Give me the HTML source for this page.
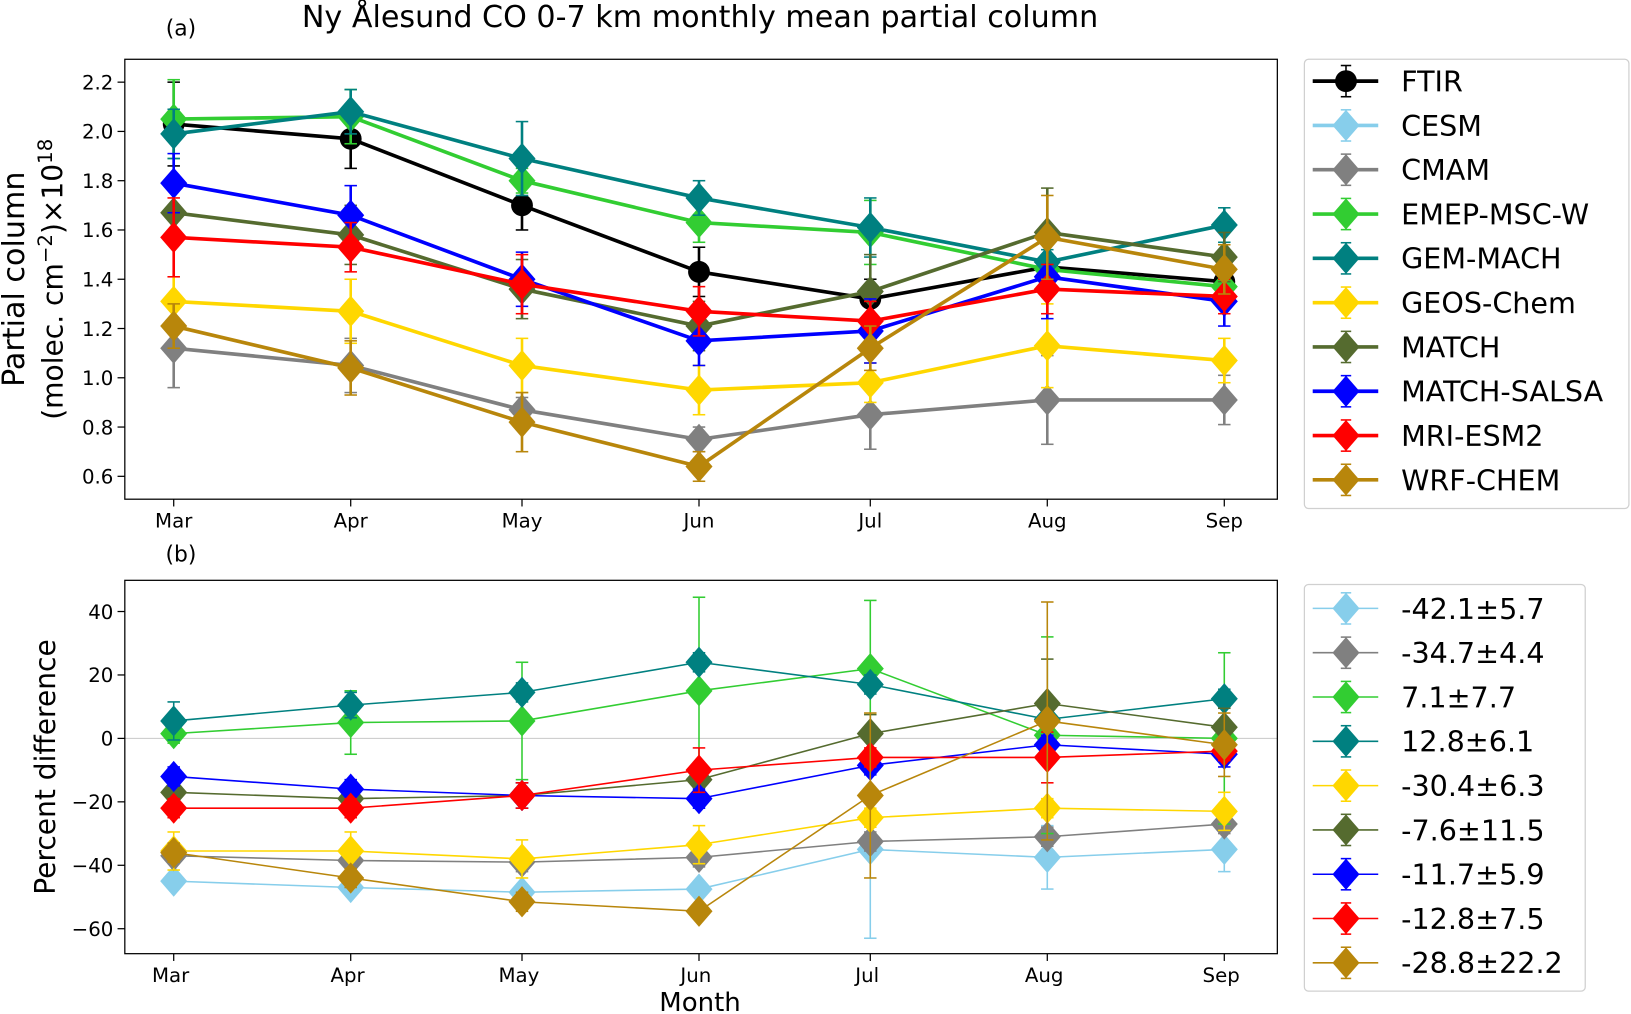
<!DOCTYPE html>
<html><head><meta charset="utf-8"><style>
html,body{margin:0;padding:0;background:#fff;}
svg{display:block;font-family:"DejaVu Sans","Liberation Sans",sans-serif;}
</style></head><body>
<svg id="chart" width="1631" height="1014" viewBox="0 0 1568 975" preserveAspectRatio="none" xmlns="http://www.w3.org/2000/svg">
<rect x="0" y="0" width="1568" height="975" fill="#fff"/>
<text x="673" y="26" font-size="29" text-anchor="middle">Ny Ålesund CO 0-7 km monthly mean partial column</text>
<text x="174" y="34" font-size="21" text-anchor="middle">(a)</text>
<text x="174" y="540" font-size="21" text-anchor="middle">(b)</text>
<g id="top"></g>
<g id="bot"></g>
<g id="leg1"></g>
<g id="leg2"></g>
</svg>
<script>
const months = ["Mar","Apr","May","Jun","Jul","Aug","Sep"];
const monthDays = [74,105,135,166,196,227,258];
const names = ["FTIR","CESM","CMAM","EMEP-MSC-W","GEM-MACH","GEOS-Chem","MATCH","MATCH-SALSA","MRI-ESM2","WRF-CHEM"];
const colors = ["#000000","#87ceeb","#808080","#32cd32","#008080","#ffd700","#556b2f","#0000ff","#ff0000","#b8860b"];
const topTicks = [0.6,0.8,1.0,1.2,1.4,1.6,1.8,2.0,2.2];
const botTicks = [-60,-40,-20,0,20,40];
const biasLabels = ["-42.1±5.7","-34.7±4.4","7.1±7.7","12.8±6.1","-30.4±6.3","-7.6±11.5","-11.7±5.9","-12.8±7.5","-28.8±22.2"];
// top panel values (null = not shown)
const vFTIR = [2.03,1.97,1.70,1.43,1.32,1.45,1.39];
const eFTIR = [0.17,0.12,0.10,0.10,0.08,0.10,0.06];
const vCESM = null;
const vCMAM = [1.12,1.05,0.87,0.75,0.85,0.91,0.91];
const eCMAM = [0.16,0.11,0.05,0.05,0.14,0.18,0.10];
const vEMEP = [2.05,2.06,1.80,1.63,1.59,1.44,1.37];
const eEMEP = [0.16,0.11,0.05,0.08,0.13,0.05,0.05];
const vGEM = [1.99,2.08,1.89,1.73,1.61,1.47,1.62];
const eGEM = [0.10,0.09,0.15,0.07,0.12,0.05,0.07];
const vGEOS = [1.31,1.27,1.05,0.95,0.98,1.13,1.07];
const eGEOS = [0.10,0.13,0.11,0.10,0.08,0.17,0.09];
const vMATCH = [1.67,1.58,1.36,1.21,1.35,1.59,1.49];
const eMATCH = [0.09,0.12,0.12,0.10,0.15,0.18,0.10];
const vSALSA = [1.79,1.66,1.40,1.15,1.19,1.41,1.31];
const eSALSA = [0.12,0.12,0.11,0.10,0.13,0.17,0.10];
const vMRI = [1.57,1.53,1.38,1.27,1.23,1.36,1.33];
const eMRI = [0.16,0.10,0.12,0.10,0.08,0.10,0.07];
const vWRF = [1.21,1.04,0.82,0.64,1.12,1.57,1.44];
const eWRF = [0.09,0.11,0.12,0.06,0.09,0.17,0.10];
// bottom panel percent differences
const pCESM = [-45,-47,-48.5,-47.5,-35,-37.5,-35];
const qCESM = [2,2,2,2,28,10,7];
const pCMAM = [-37,-38.5,-39,-37.5,-32.5,-31,-27];
const qCMAM = [2,2,3,3,3,3,3];
const pEMEP = [1.5,5,5.5,15,22,1,0];
const qEMEP = [3,10,18.5,29.5,21.5,31,27];
const pGEM = [5.5,10.5,14.5,24,17,6,12.5];
const qGEM = [6,4,3,3,3,3,3];
const pGEOS = [-35.5,-35.5,-38,-33.5,-25,-22,-23];
const qGEOS = [6,6,6,6,3,3,6];
const pMATCH = [-17,-19,-18,-13,1.5,11,3.5];
const qMATCH = [3,3,4,4,6,14,6];
const pSALSA = [-12,-16,-18,-19,-8.5,-2,-5];
const qSALSA = [3,3,4,3,3,3,4];
const pMRI = [-22,-22,-18,-10,-6,-6,-4];
const qMRI = [3,3,4,7,3,8,3];
const pWRF = [-36,-44,-51.5,-54.5,-18,5.5,-2];
const qWRF = [3,3,3,2,26,37.5,10];

const topVals = [vFTIR,vCESM,vCMAM,vEMEP,vGEM,vGEOS,vMATCH,vSALSA,vMRI,vWRF];
const topErrs = [eFTIR,null,eCMAM,eEMEP,eGEM,eGEOS,eMATCH,eSALSA,eMRI,eWRF];
const botVals = [pCESM,pCMAM,pEMEP,pGEM,pGEOS,pMATCH,pSALSA,pMRI,pWRF];
const botErrs = [qCESM,qCMAM,qEMEP,qGEM,qGEOS,qMATCH,qSALSA,qMRI,qWRF];

const NS="http://www.w3.org/2000/svg";
function mk(parent,tag,attrs,text){const e=document.createElementNS(NS,tag);for(const k in attrs)e.setAttribute(k,attrs[k]);if(text!==undefined)e.textContent=text;parent.appendChild(e);return e;}
function xs(d){return 167+(d-74)*(1177-167)/(258-74);}
function ysTop(v){return 458-(v-0.6)*(458-79)/1.6;}
function ysBot(v){return 710-v*(710-588)/40;}
function diamond(g,cx,cy,w,h,col){return mk(g,"polygon",{points:`${cx},${cy-h} ${cx+w},${cy} ${cx},${cy+h} ${cx-w},${cy}`,fill:col});}

function axes(g,top,bot,ticks,ys,fmt,ylab,ylab2,xoff){
  mk(g,"rect",{x:120,y:top,width:1108,height:bot-top,fill:"none",stroke:"#000","stroke-width":1.2});
  ticks.forEach(t=>{const y=ys(t);
    const tk=mk(g,"line",{x1:113,x2:120,y1:y,y2:y,stroke:"#000","stroke-width":1.2});
    
    
    const tl=mk(g,"text",{x:109,y:y+7,"font-size":19,"text-anchor":"end"},fmt(t));
    
    
  });
  months.forEach((m,i)=>{const x=xs(monthDays[i]);
    const tk=mk(g,"line",{x1:x,x2:x,y1:bot,y2:bot+7,stroke:"#000","stroke-width":1.2});
    
    
    const tl=mk(g,"text",{x:x+xoff,y:bot+27,"font-size":19,"text-anchor":"middle"},m);
    
    
  });
  const yl=mk(g,"text",{transform:`translate(${ylab2?23:53},${(top+bot)/2}) rotate(-90)`,"font-size":ylab2?29:27,"text-anchor":"middle"},ylab);
  
  
  if(ylab2){const t=mk(g,"text",{transform:`translate(60,${(top+bot)/2}) rotate(-90)`,"font-size":27,"text-anchor":"middle"});
    
    
    t.innerHTML='(molec. cm<tspan font-size="19" dy="-10">−2</tspan><tspan dy="10">)×10</tspan><tspan font-size="19" dy="-10">18</tspan>';}
}

const gt=document.getElementById("top"), gb=document.getElementById("bot");
axes(gt,57,480,topTicks,ysTop,t=>t.toFixed(1),"Partial column",true,0);
mk(gb,"line",{x1:120,x2:1228,y1:ysBot(0),y2:ysBot(0),stroke:"#c8c8c8","stroke-width":1});
axes(gb,558,917,botTicks,ysBot,t=>(t<0?"−"+(-t):""+t),"Percent difference",false,-3);
const xl=mk(gb,"text",{x:673,y:972,"font-size":25,"text-anchor":"middle"},"Month");



function series(g,vals,errs,ys,col,lw,isCircle,name){
  const sg=mk(g,"g",{});
  
  
  const pts=vals.map((v,i)=>[xs(monthDays[i]),ys(v)]);
  vals.forEach((v,i)=>{const x=pts[i][0];const y1=ys(v+errs[i]),y2=ys(v-errs[i]);
    mk(sg,"line",{x1:x,x2:x,y1:y1,y2:y2,stroke:col,"stroke-width":lw>2?2.5:1.5});
    mk(sg,"line",{x1:x-6,x2:x+6,y1:y1,y2:y1,stroke:col,"stroke-width":1.5});
    mk(sg,"line",{x1:x-6,x2:x+6,y1:y2,y2:y2,stroke:col,"stroke-width":1.5});
  });
  mk(sg,"polyline",{points:pts.map(p=>p.join(",")).join(" "),fill:"none",stroke:col,"stroke-width":lw,"stroke-linejoin":"round"});
  pts.forEach(p=>{const m=isCircle?mk(sg,"circle",{cx:p[0],cy:p[1],r:10.5,fill:col}):diamond(sg,p[0],p[1],13,15,col);
    
    });
}
topVals.forEach((v,k)=>{if(v)series(gt,v,topErrs[k],ysTop,colors[k],3.5,k===0,names[k]);});
botVals.forEach((v,k)=>series(gb,v,botErrs[k],ysBot,colors[k+1],1.5,false,names[k+1]));

function legend(g,x,y,w,h,labels,cols,lw,circleFirst,y0,step){
  mk(g,"rect",{x:x,y:y,width:w,height:h,rx:4,fill:"#fff",stroke:"#d0d0d0","stroke-width":1.2});
  labels.forEach((l,i)=>{const cy=y0+i*step;
    const eg=mk(g,"g",{});
    
    
    mk(eg,"line",{x1:1262,x2:1325,y1:cy,y2:cy,stroke:cols[i],"stroke-width":lw});
    mk(eg,"line",{x1:1294,x2:1294,y1:cy-15,y2:cy+15,stroke:cols[i],"stroke-width":1.5});
    mk(eg,"line",{x1:1289,x2:1299,y1:cy-15,y2:cy-15,stroke:cols[i],"stroke-width":1.5});
    mk(eg,"line",{x1:1289,x2:1299,y1:cy+15,y2:cy+15,stroke:cols[i],"stroke-width":1.5});
    if(circleFirst&&i===0)mk(eg,"circle",{cx:1294,cy:cy,r:10.5,fill:cols[i]});else diamond(eg,1294,cy,13,15,cols[i]);
    mk(eg,"text",{x:1347,y:cy+10,"font-size":27.5},l);
  });
}
legend(document.getElementById("leg1"),1254,57,312,432,names,colors,3.5,true,78,42.6);
legend(document.getElementById("leg2"),1254,562,270,391,biasLabels,colors.slice(1),1.5,false,585,42.6);
</script>
</body></html>
